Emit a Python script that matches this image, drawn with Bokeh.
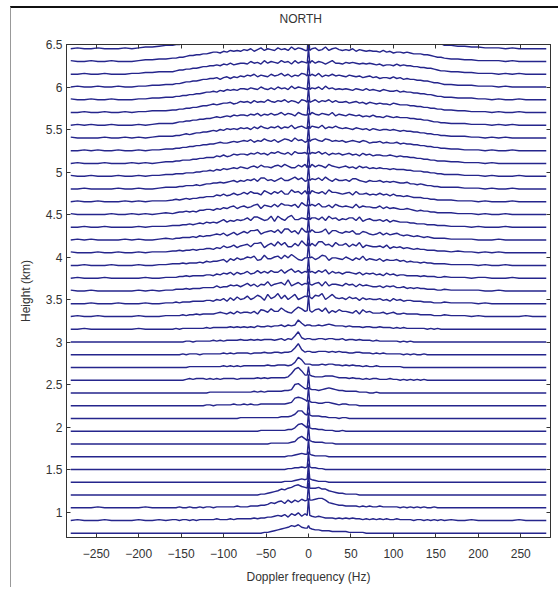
from bokeh.plotting import figure
from bokeh.models import LinearAxis, FixedTicker, Range1d
from bokeh.embed import file_html
from bokeh.resources import INLINE

# ---- data ----
heights_km = [0.75, 0.90, 1.05, 1.20, 1.35, 1.50, 1.65, 1.80, 1.95, 2.10,
              2.25, 2.40, 2.55, 2.70, 2.85, 3.00, 3.15, 3.30, 3.45, 3.60,
              3.75, 3.90, 4.05, 4.20, 4.35, 4.50, 4.65, 4.80, 4.95, 5.10,
              5.25, 5.40, 5.55, 5.70, 5.85, 6.00, 6.15, 6.30, 6.45]

# spectral bins (Hz): coarse in the tails, fine in the centre
freq_hz = (list(range(-280, -159, 8)) + list(range(-156, 157, 4))
           + list(range(160, 281, 8)))

# spectral level per bin, one base-36 digit per bin, unit = LEVEL_KM
# layout: left tail(16) | -156..-120 | -116..-80 | -76..-40 | -36..-4 | 0 |
#         4..36 | 40..76 | 80..116 | 120..156 | right tail(16)
LEVEL_KM = 0.01
spectra_levels = [
    "0000000000000000|0000000000 0000000000 0000001123 456798a76 6 544333222 2211111000 0000000000 0000000000|0000000000000000",
    "0100010000100101|1011010111 1121112122 2223233445 657486958 6 545433323 2323221212 1212112111 1011010101|0100100000010000",
    "0000100000010000|0100100101 1011111121 1122233465 7859697a8 9 9abb96543 3222212121 1211111010 1010100100|0000000000000000",
    "0000000000000000|0000000000 0000000000 0000011234 57689bca9 8 889775432 2111100000 0000000000 0000000000|0000000000000000",
    "0000000000000000|0000000000 0000000000 0000000000 001112343 4 321110000 0000000000 0000000000 0000000000|0000000000000000",
    "0000000000000000|0000000000 0000000000 0000000000 000112232 3 221100000 0000000000 0000000000 0000000000|0000000000000000",
    "0000000000000000|0000000000 0000000000 0000000000 000112343 3 211110000 0000000000 0000000000 0000000000|0000000000000000",
    "0000000000000000|0000000000 0000000000 0000000011 111123796 4 322211100 0000000000 0000000000 0000000000|0000000000000000",
    "0000000000000000|0000000000 0000000000 0000011111 111224896 4 332211100 1000000000 0000000000 0000000000|0000000000000000",
    "0000000000000000|0000000000 0000000001 1111111111 122235995 4 333221110 1100000000 0000000000 0000000000|0000000000000000",
    "0000000000000000|0000000001 1011111211 2121122222 222349a97 5 443344321 2211100000 0000000000 0000000000|0000000000000000",
    "0000000000000000|0000000000 1111111111 1112121222 22334ab85 5 443456543 3222211100 1000000000 0000000000|0000000000000000",
    "0000000000000000|0001212221 2121222212 2222323233 33348dfb6 6 544455543 3323221212 2111211010 1010100000|0000000000000000",
    "0000000000000000|0000111111 1111212121 2222222322 333236c94 4 333434433 2323221211 2111111100 0000000000|0000000000000000",
    "0000000000000000|0010111011 1111212122 2212223223 323348d63 4 334443434 3322332221 2121111101 0100100000|0000000000000000",
    "0000000000000000|0001101111 1212122223 2232323332 342437c53 4 334434433 4233232221 2111111010 1000000000|0000000000000000",
    "0010000000100000|1011111112 1222223232 3232433434 453545b74 5 445456544 4343332332 2322212121 1111101010|0000000000000000",
    "0100100000100011|1121223233 3345435364 5546387596 6a7548b96 7 5896a4758 6654738564 4453453343 3332222111|2111010000001000",
    "0001000100010011|2122233334 4354637485 6957a84b68 c6a58b579 8 6a9c58b76 7586747565 5645364534 4333222111|2111101000000000",
    "1001000000101011|2223233344 4464557675 7968587b68 9a7d68a79 8 79a6b6887 6978586765 5646564453 4343322211|2111110010000000",
    "0100010000010011|1223233334 4354657475 6856968697 7a69b7968 7 8697a5867 5776574656 4536453443 3332322211|2111011000100000",
    "0010001000100112|2232333435 4556748697 8a9b67c88a b8c9da769 9 a79cb6998 7a8697b687 6857667564 5443433222|2111101001000000",
    "1000100100101112|2323343445 5465867968 9a7bbc69b8 d9c77b8ea 8 b8dd9a7c9 9b7a8c6987 7869576756 5454433322|2121101010000000",
    "0101000010100121|2233343545 5676857968 a8bbc79ab9 c8dd9b7ea 9 c99ad7bb9 8a9b77a976 7968678656 5454343222|2111100010000000",
    "0010010000101112|2233434546 5657968798 9b8cca89d7 da8ce99ba 9 bb9c8dab8 a9bb8c79a8 8979687666 5544433322|2111010001000000",
    "1000001001010121|2334343556 6576879a79 a89bc7ba9c 9dbbac8eb a cad99b8ca 9a98c8a998 8a79787667 6545443322|2211101001000000",
    "0100100010101112|3234344556 6687978a89 b9caa8db9c ad99ebc9d 9 dbac9ebba 9ab8c99a89 8a89797767 6555443322|2211101000100000",
    "0010000100100122|2334445456 6778789a8a 9bac9ddab9 bdaacebd9 a cbdaeb9ca ab9cca98a9 9a89898778 6656544332|2221110100100000",
    "1001000100101122|3334445566 7687989a9b a9bcadbbac dbecaadbe a ebdcaecba bcab9cab9a 9a99898887 7666554433|2221110100010000",
    "0100010001010122|3344455667 7798a89bab bacbdbcadc ecbdaeccd b dcebdacbc abcab9cab9 aa99a98988 7766554433|3221110100000000",
    "0010100100101122|3344556677 889a99abab cbdacbecbd acedbfcda b decbedbcb cabcbacb9a ab9a99a898 8776655443|3221110100100000",
    "1000010010101222|3345456677 898a9babac bcadbecbdc ebdcfbdec b edcfbdcec bcbacbab9b a9aa9a9898 8776655443|3222110101000000",
    "0101001000101222|3445566778 89a9abacbc cbdcebdcec dfcedbfdc c fdcedcfbd cbdcbcabac aa9ba9a999 8877665443|3222111010100000",
    "0010010010112223|3445566788 9a9abbcabd cdbecdcfdc edfcedbfe c dfcedfcec cdbcdbcacb abaa9ba999 8877665544|3322111010010000",
    "1001001000112233|4455667789 9a9bacbcbd dcedcfdcec fdecgdfed c edfcgdecd cdcbdcbdbc bacbaab9a9 9887766544|3322211010010000",
    "0100100100112233|4456677899 aab9bcacbd cedfcedcfd egdfcedgf d fdgcedfde dcedcdbcdb cabbacab9a 9988776554|3322211101000000",
    "0010010001122333|4556677899 aabacbdbcd dcfdecgdfe dgefcgdfe d gdfecegdd cededcdcdc bcabbacaba a998877654|4332211101010000",
    "1001001000122334|4556778899 abbacbdcdc edfcegdfed gefdhegfd d fgdehdfge dedfcedcdc cbdbcabbab a999887655|4332211110100000",
    "0100100010122344|5566788999 abbcacdcdd efdgdfehef hfgeigfhe e gheficfgf efdgdfecdd cdbcdbcbcb baa9988766|4433221110100000",
]

# zero-Doppler (ground clutter) spike height per gate (km units on the plot)
dc_spike_km = [0.03, 0.20, 0.20, 0.18, 0.18, 0.18, 0.18, 0.18, 0.18, 0.18,
               0.17, 0.17, 0.10, 0.00, 0.00, 0.00, 0.00, 0.18, 0.18, 0.18,
               0.18, 0.18, 0.18, 0.18, 0.18, 0.18, 0.18, 0.18, 0.18, 0.18,
               0.18, 0.18, 0.18, 0.18, 0.18, 0.18, 0.18, 0.18, 0.18]

x_ticks = [-250, -200, -150, -100, -50, 0, 50, 100, 150, 200, 250]
y_ticks = [1, 1.5, 2, 2.5, 3, 3.5, 4, 4.5, 5, 5.5, 6, 6.5]
title_text = "NORTH"

# ---- build line data ----
xs, ys = [], []
for h, row, spike in zip(heights_km, spectra_levels, dc_spike_km):
    lv = [int(c, 36) for c in row.replace(" ", "").replace("|", "")]
    assert len(lv) == len(freq_hz), (h, len(lv))
    x_line, y_line = [], []
    for f, l in zip(freq_hz, lv):
        base = h + l * LEVEL_KM
        if f == 0:
            x_line += [-1.5, 0, 1.5]
            y_line += [base, base + spike, base]
        else:
            x_line.append(f)
            y_line.append(base)
    xs.append(x_line)
    ys.append(y_line)

FONT = "Liberation Sans"
p = figure(frame_width=484, frame_height=493, output_backend="svg",
           toolbar_location=None,
           x_range=Range1d(-285, 285), y_range=Range1d(0.7, 6.5),
           min_border_left=55, min_border_right=8, min_border_top=36,
           min_border_bottom=50, title=title_text)
p.title.align = "left"
p.title.offset = 213
p.title.standoff = 0
p.title.text_font = FONT
p.title.text_font_size = "12px"
p.title.text_font_style = "normal"
p.title.text_color = "#333333"

p.multi_line(xs=xs, ys=ys, line_color="#25258c", line_width=1.4)

p.xgrid.grid_line_color = None
p.ygrid.grid_line_color = None
p.outline_line_color = "#333333"
p.background_fill_color = "white"

bottom = p.below[0]
left = p.left[0]
bottom.ticker = FixedTicker(ticks=x_ticks)
left.ticker = FixedTicker(ticks=y_ticks)
bottom.axis_label = "Doppler frequency (Hz)"
left.axis_label = "Height (km)"

top = LinearAxis(ticker=FixedTicker(ticks=x_ticks))
right = LinearAxis(ticker=FixedTicker(ticks=y_ticks))
p.add_layout(top, "above")
p.add_layout(right, "right")
# invisible spacer axis: keeps the title 26 px above the frame
spacer = LinearAxis(ticker=FixedTicker(ticks=x_ticks), major_tick_out=19,
                    major_tick_in=0, major_tick_line_color=None,
                    minor_tick_line_color=None, axis_line_color=None,
                    major_label_text_color=None, major_label_standoff=0,
                    major_label_text_font_size="1px")
p.add_layout(spacer, "above")

for ax in [bottom, left, top, right]:
    ax.major_tick_in = 4
    ax.major_tick_out = 0
    ax.minor_tick_line_color = None
    ax.axis_line_color = "#333333"
    ax.major_tick_line_color = "#333333"
    ax.major_label_text_font = FONT
    ax.major_label_text_font_size = "12px"
    ax.major_label_text_color = "#333333"
    ax.axis_label_text_font = FONT
    ax.axis_label_text_font_size = "12px"
    ax.axis_label_text_font_style = "normal"
    ax.axis_label_text_color = "#333333"
bottom.major_label_standoff = 11
bottom.axis_label_standoff = 9
left.major_label_standoff = 4
left.axis_label_standoff = 10
for ax in [top, right]:
    ax.major_label_text_font_size = "1px"
    ax.major_label_text_color = None
    ax.major_label_standoff = 0

p.styles = {"border-top": "2px solid #111111", "border-left": "1px solid #999999",
            "margin-top": "6px", "margin-left": "10px"}

open("out.html", "w").write(file_html(p, INLINE))
